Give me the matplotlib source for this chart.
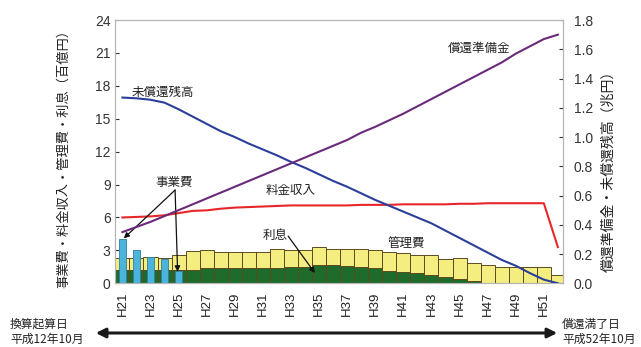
import numpy as np
import matplotlib.pyplot as plt
from matplotlib.patches import FancyArrowPatch

plt.rcParams['font.family'] = ['Noto Sans CJK JP', 'DejaVu Sans']

years = ["H%d" % y for y in range(21, 53)]

# 利息 (百億円)
interest = [1.2, 1.2, 1.2, 1.2, 1.2, 1.2, 1.35, 1.35, 1.35, 1.35, 1.35, 1.35,
            1.5, 1.5, 1.65, 1.65, 1.6, 1.5, 1.35, 1.15, 1.05, 0.9, 0.75, 0.55,
            0.35, 0.2, 0, 0, 0, 0, 0, 0]
# 利息 + 管理費 (百億円)
total = [2.3, 2.3, 2.4, 2.3, 2.6, 2.9, 3.0, 2.85, 2.85, 2.85, 2.85, 3.15,
         3.0, 3.0, 3.35, 3.1, 3.1, 3.1, 3.0, 2.85, 2.75, 2.6, 2.55, 2.2,
         2.3, 1.85, 1.65, 1.5, 1.5, 1.5, 1.5, 0.8]
# 事業費 (百億円), H21-H25
project = [4.0, 3.0, 2.4, 2.2, 1.1]
# 料金収入 (百億円)
toll = [6.0, 6.05, 6.1, 6.2, 6.4, 6.6, 6.65, 6.8, 6.9, 6.95, 7.0, 7.05,
        7.1, 7.1, 7.1, 7.1, 7.1, 7.15, 7.15, 7.15, 7.2, 7.2, 7.2, 7.2,
        7.25, 7.25, 7.3, 7.3, 7.3, 7.3, 7.3, 3.3]
# 未償還残高 (兆円)
debt = [1.27, 1.265, 1.255, 1.235, 1.19, 1.14, 1.09, 1.04, 1.0, 0.955, 0.915, 0.875,
        0.83, 0.79, 0.745, 0.70, 0.66, 0.615, 0.57, 0.53, 0.49, 0.45, 0.41, 0.36,
        0.31, 0.26, 0.21, 0.16, 0.12, 0.07, 0.025, 0.0]
# 償還準備金 (兆円)
reserve = [0.35, 0.385, 0.42, 0.46, 0.50, 0.54, 0.58, 0.62, 0.66, 0.70, 0.74, 0.78,
           0.82, 0.86, 0.90, 0.94, 0.98, 1.03, 1.07, 1.115, 1.16, 1.21, 1.26, 1.31,
           1.36, 1.41, 1.46, 1.51, 1.57, 1.62, 1.67, 1.70]

x = np.arange(len(years))
interest = np.array(interest)
manage = np.array(total) - interest

fig = plt.figure(figsize=(6.41, 3.47), dpi=100)
ax = fig.add_axes([0.180, 0.1836, 0.698, 0.7586])

edge = '#5c4a1e'
ax.bar(x, interest, width=1.0, color='#1e6b2b', edgecolor=edge, lw=0.7, zorder=2)
ax.bar(x, manage, width=1.0, bottom=interest, color='#f4ee80', edgecolor=edge, lw=0.7, zorder=2)
ax.bar(x[:len(project)], project, width=0.45, color='#4cb3dc', edgecolor='#2a7fa0', lw=0.6, zorder=3)
ax.plot(x, toll, color='#e8262a', lw=1.5, zorder=4)

ax.set_xlim(-0.5, 31.35)
ax.set_ylim(0, 24)
ax.set_yticks(np.arange(0, 25, 3))
ax.set_xticks(x[::2])
ax.set_xticklabels(years[::2], rotation=90, fontsize=9.5, family='Liberation Sans')
for lab in ax.get_yticklabels():
    lab.set_family('Liberation Sans')
ax.tick_params(axis='y', labelsize=10, colors='#333333', length=3, direction='in')
ax.tick_params(axis='x', length=0, pad=6, labelcolor='#222222')
for s in ax.spines.values():
    s.set_color('#b5b5b5')

ax2 = ax.twinx()
ax2.plot(x, debt, color='#2b3f9a', lw=1.5, zorder=5)
ax2.plot(x, reserve, color='#6a2a7a', lw=1.5, zorder=5)
ax2.set_ylim(0, 1.8)
ax2.set_yticks(np.arange(0, 1.81, 0.2))
ax2.set_yticklabels(["%.1f" % v for v in np.arange(0, 1.81, 0.2)], family='Liberation Sans')
ax2.tick_params(axis='y', labelsize=10, colors='#333333', length=3, direction='in', pad=8)
for s in ax2.spines.values():
    s.set_color('#b5b5b5')

# annotations
fs = 9
ax.text(2.9, 17.4, '未償還残高', fontsize=fs, ha='center', va='center', color='#222222')
ax.text(25.4, 21.45, '償還準備金', fontsize=fs, ha='center', va='center', color='#222222')
ax.text(12.0, 8.5, '料金収入', fontsize=fs, ha='center', va='center', color='#222222')
ax.text(20.2, 3.67, '管理費', fontsize=fs, ha='center', va='center', color='#222222')
ax.text(3.67, 9.23, '事業費', fontsize=fs, ha='center', va='center', color='#222222')
ax.text(10.85, 4.4, '利息', fontsize=fs, ha='center', va='center', color='#222222')

arr = dict(arrowstyle='-|>', color='#111111', lw=0.9, mutation_scale=8, shrinkA=0, shrinkB=0)
ax.annotate('', xy=(0.1, 4.1), xytext=(3.75, 8.5), arrowprops=arr, zorder=6)
ax.annotate('', xy=(3.93, 1.06), xytext=(3.75, 8.5), arrowprops=arr, zorder=6)
ax.annotate('', xy=(13.7, 0.94), xytext=(11.8, 4.3), arrowprops=arr, zorder=6)

# y labels
fig.text(64 / 641, 1 - 155 / 347, '事業費・料金収入・管理費・利息（百億円）', rotation=90,
         fontsize=9.5, ha='center', va='center', color='#222222')
fig.text(608 / 641, 1 - 168 / 347, '償還準備金・未償還残高（兆円）', rotation=90,
         fontsize=10, ha='center', va='center', color='#222222')

# bottom period arrow
fig.add_artist(FancyArrowPatch((93 / 641, 1 - 333 / 347), (560 / 641, 1 - 333 / 347),
                               transform=fig.transFigure, arrowstyle='<|-|>',
                               mutation_scale=14, lw=2.2, color='#1a1a1a'))
fig.text(10 / 641, 1 - 318 / 347, '換算起算日\n平成12年10月', fontsize=8.5, ha='left', va='top',
         color='#222222', linespacing=1.2)
fig.text(562 / 641, 1 - 318 / 347, '償還満了日\n平成52年10月', fontsize=8.5, ha='left', va='top',
         color='#222222', linespacing=1.2)

fig.savefig('out.png', dpi=100)
